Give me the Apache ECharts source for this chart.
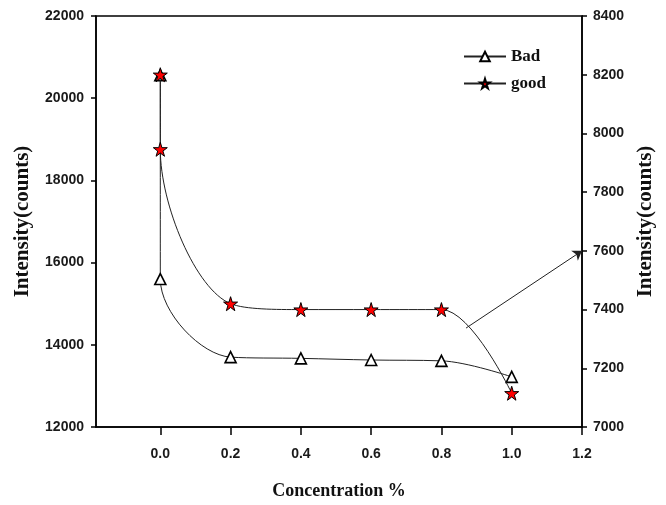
<!DOCTYPE html>
<html>
<head>
<meta charset="utf-8">
<script src="https://cdn.jsdelivr.net/npm/echarts@6/dist/echarts.min.js"></script>
<style>
html,body{margin:0;padding:0;background:#fff;}
#chart{width:666px;height:505px;}
</style>
</head>
<body>
<div id="chart"></div>
<script>
// Concentration (%) for each measured point (x = 0 measured twice)
const concentration = [0.0, 0.0, 0.2, 0.4, 0.6, 0.8, 1.0];
// "Bad" intensity (left axis, counts)
const badValues = [20560, 15600, 13700, 13670, 13630, 13610, 13220];
// "good" intensity (right axis, counts)
const goodValues = [8200, 7946, 7420, 7400, 7400, 7400, 7115];
// x tick labels
const xTicks = [0.0, 0.2, 0.4, 0.6, 0.8, 1.0, 1.2];
// annotation arrow (data units on x / right axis): start, end
const arrowStart = [0.87, 7337];
const arrowEnd = [1.2, 7600];

const pairs = (xs, ys) => xs.map((x, i) => [x, ys[i]]);

const starPath = 'path://M50,0 L61,35 L98,35 L68,57 L79,91 L50,70 L21,91 L32,57 L2,35 L39,35 Z';
const tickFont = {fontFamily: '"Liberation Sans", Arial, sans-serif', fontWeight: 'bold', fontSize: 14, color: '#1a1a1a'};
const titleFont = {fontFamily: '"Liberation Serif", "Times New Roman", serif', fontWeight: 'bold', color: '#111'};

const chart = echarts.init(document.getElementById('chart'), null, {renderer: 'canvas'});
chart.setOption({
  animation: false,
  backgroundColor: '#fff',
  grid: {left: 96, right: 84, top: 16, bottom: 78, show: true, borderColor: '#000', borderWidth: 1.5,
         backgroundColor: 'transparent', containLabel: false, outerBoundsMode: 'none'},
  legend: {
    orient: 'vertical', left: 458, top: 43, itemWidth: 42, itemHeight: 12, itemGap: 10,
    textStyle: Object.assign({}, titleFont, {fontSize: 17}),
    data: ['Bad', 'good']
  },
  xAxis: {
    type: 'value', min: -0.183, max: 1.2,
    name: 'Concentration %', nameLocation: 'middle', nameGap: 55,
    nameTextStyle: Object.assign({}, titleFont, {fontSize: 18}),
    axisLine: {show: true, onZero: false, lineStyle: {color: '#000', width: 1.5}},
    axisTick: {show: true, inside: false, length: 8, customValues: xTicks, lineStyle: {color: '#000', width: 1.5}},
    axisLabel: Object.assign({margin: 20, customValues: xTicks, formatter: v => v.toFixed(1)}, tickFont),
    splitLine: {show: false}
  },
  yAxis: [
    {
      type: 'value', min: 12000, max: 22000, interval: 2000, position: 'left',
      name: 'Intensity(counts)', nameLocation: 'middle', nameGap: 63, nameRotate: 90,
      nameTextStyle: Object.assign({}, titleFont, {fontSize: 21}),
      axisLine: {show: true, onZero: false, lineStyle: {color: '#000', width: 1.5}},
      axisTick: {show: true, inside: false, length: 5, lineStyle: {color: '#000', width: 1.5}},
      axisLabel: Object.assign({margin: 12, formatter: v => String(v)}, tickFont),
      splitLine: {show: false}
    },
    {
      type: 'value', min: 7000, max: 8400, interval: 200, position: 'right',
      name: 'Intensity(counts)', nameLocation: 'middle', nameGap: 53, nameRotate: 90,
      nameTextStyle: Object.assign({}, titleFont, {fontSize: 21}),
      axisLine: {show: true, onZero: false, lineStyle: {color: '#000', width: 1.5}},
      axisTick: {show: true, inside: false, length: 5, lineStyle: {color: '#000', width: 1.5}},
      axisLabel: Object.assign({margin: 11, formatter: v => String(v)}, tickFont),
      splitLine: {show: false}
    }
  ],
  series: [
    {
      name: 'Bad', type: 'line', yAxisIndex: 0, smooth: 0.35,
      data: pairs(concentration, badValues),
      symbol: 'triangle', symbolSize: 11,
      lineStyle: {color: '#222', width: 1},
      itemStyle: {color: '#fff', borderColor: '#000', borderWidth: 1.6},
      z: 2
    },
    {
      name: 'good', type: 'line', yAxisIndex: 1, smooth: 0.35,
      data: pairs(concentration, goodValues),
      symbol: starPath, symbolSize: 14,
      lineStyle: {color: '#222', width: 1},
      itemStyle: {color: '#ff0000', borderColor: '#000', borderWidth: 1},
      z: 3,
      markLine: {
        silent: true, symbol: ['none', 'arrow'], symbolSize: 9,
        label: {show: false},
        lineStyle: {color: '#222', width: 1, type: 'solid'},
        data: [[{coord: arrowStart}, {coord: arrowEnd}]]
      }
    }
  ]
});
</script>
</body>
</html>
